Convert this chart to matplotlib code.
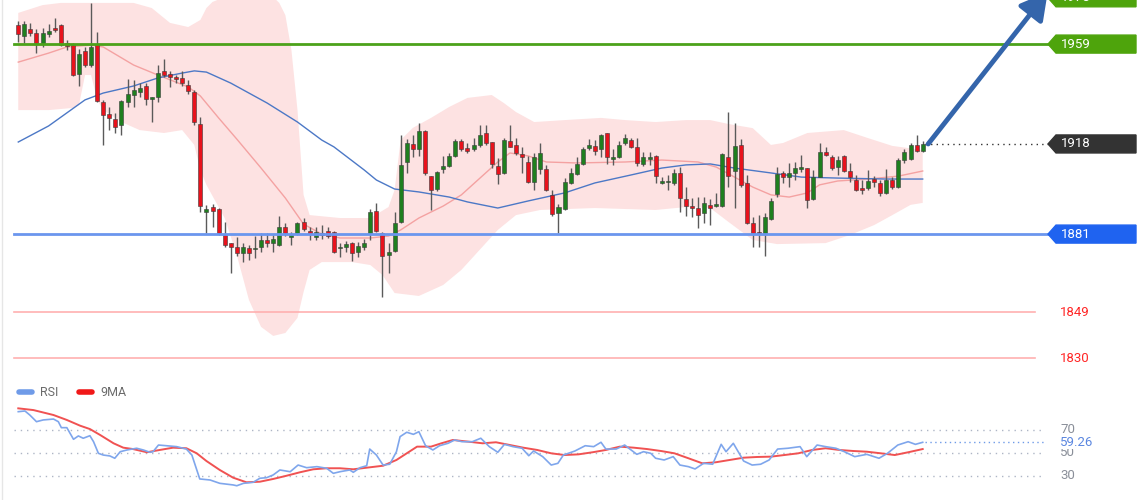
import matplotlib
matplotlib.use("Agg")
import matplotlib.pyplot as plt
from matplotlib.lines import Line2D
from matplotlib.patches import Polygon
import numpy as np

plt.rcParams['font.family'] = ['Roboto', 'DejaVu Sans']

# ---- candles, oldest first ----
opens = [1966.8, 1962.3, 1965.2, 1963.5, 1959.4, 1963.1, 1965.6, 1966.8, 1959.4, 1958.6,
         1946.7, 1956.2, 1950.4, 1959.0, 1935.2, 1930.3, 1928.2, 1925.8, 1935.2, 1938.1,
         1939.3, 1941.8, 1936.5, 1937.3, 1948.0, 1946.7, 1945.5, 1945.1, 1942.2, 1939.3,
         1926.2, 1890.1, 1892.1, 1891.3, 1880.6, 1877.3, 1875.7, 1873.2, 1875.3, 1874.9,
         1875.7, 1878.6, 1877.3, 1876.5, 1883.9, 1879.8, 1881.5, 1886.0, 1882.3, 1879.8,
         1881.5, 1882.3, 1881.9, 1875.3, 1875.7, 1877.3, 1873.6, 1875.7, 1881.5, 1890.5,
         1881.5, 1872.4, 1874.1, 1886.0, 1910.6, 1918.0, 1915.9, 1923.3, 1904.8, 1899.5,
         1907.7, 1909.0, 1913.1, 1919.2, 1916.3, 1915.9, 1917.6, 1922.5, 1918.8, 1909.0,
         1906.1, 1919.2, 1917.6, 1913.9, 1910.6, 1902.4, 1907.7, 1907.7, 1897.1, 1889.7,
         1891.3, 1902.0, 1905.7, 1909.8, 1916.3, 1917.2, 1915.9, 1922.5, 1911.8, 1912.7,
         1918.4, 1919.6, 1916.8, 1909.8, 1911.8, 1913.1, 1902.0, 1902.4, 1902.0, 1906.1,
         1895.4, 1892.5, 1891.7, 1889.7, 1893.0, 1892.5, 1892.5, 1912.7, 1906.9, 1917.6,
         1902.0, 1885.6, 1881.9, 1881.5, 1887.2, 1897.5, 1906.1, 1904.4, 1906.1, 1907.7,
         1908.1, 1895.4, 1904.4, 1914.7, 1912.7, 1908.5, 1913.1, 1906.9, 1903.2, 1899.9,
         1899.9, 1903.6, 1902.0, 1897.9, 1903.2, 1900.3, 1911.4, 1911.8, 1917.6, 1915.1]
highs = [1968.5, 1968.5, 1967.7, 1965.2, 1965.6, 1967.2, 1969.7, 1967.2, 1960.7, 1959.4,
         1957.0, 1957.8, 1975.9, 1964.0, 1936.1, 1933.2, 1930.7, 1936.1, 1944.7, 1944.3,
         1943.0, 1943.0, 1937.3, 1950.4, 1952.9, 1948.0, 1946.3, 1948.0, 1944.3, 1940.2,
         1929.1, 1893.0, 1893.4, 1891.7, 1886.0, 1877.3, 1879.8, 1877.3, 1876.5, 1880.2,
         1881.5, 1881.5, 1880.6, 1888.4, 1885.6, 1881.9, 1886.0, 1887.6, 1883.9, 1883.9,
         1884.7, 1883.9, 1882.3, 1877.3, 1878.2, 1877.8, 1877.8, 1879.0, 1891.3, 1893.8,
         1881.9, 1877.3, 1890.1, 1921.7, 1920.0, 1921.7, 1926.6, 1923.7, 1904.8, 1906.9,
         1913.1, 1914.3, 1920.0, 1920.0, 1918.4, 1920.4, 1925.8, 1925.8, 1918.8, 1912.2,
         1920.4, 1925.8, 1920.4, 1916.8, 1913.1, 1914.3, 1918.4, 1909.4, 1899.1, 1893.4,
         1904.0, 1908.1, 1912.7, 1916.8, 1920.0, 1919.6, 1922.1, 1922.5, 1915.9, 1919.2,
         1922.1, 1920.4, 1920.4, 1914.7, 1914.7, 1913.5, 1904.4, 1905.3, 1907.7, 1908.5,
         1900.3, 1895.8, 1896.2, 1896.2, 1895.4, 1897.9, 1914.3, 1931.1, 1926.6, 1920.0,
         1905.3, 1888.0, 1888.8, 1889.7, 1895.8, 1908.5, 1906.9, 1910.2, 1910.6, 1913.5,
         1908.1, 1907.3, 1918.4, 1916.8, 1913.5, 1913.1, 1913.5, 1910.2, 1905.3, 1903.2,
         1907.3, 1904.8, 1903.2, 1907.7, 1904.4, 1912.2, 1915.9, 1918.4, 1921.7, 1919.2]
lows = [1959.9, 1959.4, 1962.3, 1955.3, 1957.8, 1961.9, 1964.0, 1958.2, 1956.6, 1945.9,
        1941.8, 1949.6, 1949.6, 1935.2, 1917.6, 1923.7, 1922.5, 1921.7, 1933.2, 1933.2,
        1937.3, 1934.0, 1927.0, 1935.2, 1945.5, 1941.4, 1943.0, 1941.8, 1938.5, 1925.8,
        1890.1, 1881.5, 1883.9, 1880.6, 1875.7, 1865.0, 1872.0, 1869.5, 1870.4, 1871.2,
        1873.6, 1875.7, 1873.6, 1876.1, 1880.2, 1876.5, 1880.6, 1882.3, 1878.6, 1878.6,
        1879.0, 1879.4, 1873.2, 1871.6, 1873.6, 1870.0, 1871.6, 1874.5, 1878.6, 1881.9,
        1855.2, 1865.0, 1873.6, 1885.6, 1906.1, 1912.7, 1913.1, 1905.3, 1890.9, 1898.7,
        1906.1, 1908.5, 1912.7, 1915.1, 1914.3, 1915.1, 1916.8, 1917.6, 1908.1, 1901.6,
        1905.7, 1916.8, 1913.5, 1906.1, 1902.0, 1899.1, 1905.7, 1898.7, 1888.4, 1881.5,
        1890.9, 1901.6, 1905.3, 1909.4, 1915.5, 1913.5, 1912.7, 1909.8, 1909.4, 1912.2,
        1917.6, 1916.3, 1909.0, 1909.0, 1909.4, 1902.0, 1901.6, 1899.1, 1901.2, 1890.1,
        1888.4, 1888.0, 1883.5, 1885.6, 1884.7, 1892.1, 1892.1, 1900.3, 1891.7, 1900.3,
        1885.2, 1875.7, 1875.7, 1872.0, 1886.8, 1896.2, 1902.0, 1900.3, 1903.2, 1906.5,
        1891.7, 1895.0, 1904.4, 1913.1, 1907.3, 1905.3, 1906.5, 1902.4, 1898.7, 1897.5,
        1899.1, 1900.3, 1896.6, 1897.5, 1899.5, 1899.9, 1910.2, 1911.4, 1914.7, 1914.7]
closes = [1963.1, 1967.2, 1963.5, 1959.4, 1963.5, 1964.4, 1964.8, 1958.6, 1958.2, 1946.3,
          1954.9, 1950.4, 1957.8, 1935.6, 1929.9, 1928.7, 1925.0, 1935.6, 1938.5, 1940.2,
          1941.0, 1936.5, 1937.3, 1947.1, 1946.3, 1945.5, 1944.7, 1943.0, 1939.7, 1927.0,
          1892.5, 1891.3, 1890.5, 1881.5, 1876.5, 1875.7, 1873.2, 1875.7, 1873.2, 1875.3,
          1878.6, 1877.3, 1879.0, 1883.9, 1881.5, 1880.6, 1885.6, 1883.1, 1881.0, 1881.9,
          1880.6, 1880.2, 1873.6, 1875.7, 1876.9, 1873.2, 1876.1, 1877.3, 1890.1, 1882.3,
          1872.0, 1873.6, 1885.6, 1909.4, 1918.4, 1915.9, 1923.3, 1906.1, 1899.1, 1906.5,
          1909.0, 1913.1, 1919.2, 1915.9, 1915.1, 1917.6, 1921.7, 1918.4, 1909.8, 1905.7,
          1919.6, 1916.8, 1914.3, 1912.7, 1902.4, 1912.7, 1914.3, 1899.1, 1889.3, 1892.1,
          1902.4, 1906.1, 1909.8, 1915.9, 1917.6, 1915.1, 1921.7, 1912.7, 1912.7, 1917.6,
          1920.4, 1916.8, 1910.2, 1912.7, 1912.7, 1904.8, 1902.8, 1902.8, 1906.1, 1895.8,
          1892.5, 1891.7, 1888.8, 1893.8, 1891.7, 1893.4, 1913.9, 1904.8, 1917.2, 1901.2,
          1885.6, 1881.5, 1881.5, 1888.0, 1894.6, 1905.7, 1904.4, 1906.1, 1908.1, 1908.5,
          1895.0, 1904.4, 1914.7, 1913.5, 1908.1, 1911.4, 1906.9, 1904.4, 1899.1, 1899.1,
          1902.8, 1902.4, 1897.9, 1903.2, 1900.3, 1911.4, 1914.7, 1917.6, 1915.1, 1918.0]

# ---- Bollinger band (read at selected candle positions) ----
bb_up_idx = [0, 4, 7, 19, 22, 25, 28, 30, 31, 32, 34, 39, 42, 43, 44, 45, 46, 47, 48, 53,
             58, 61, 62, 63, 65, 68, 71, 74, 78, 80, 82, 85, 90, 96, 100, 105, 110, 114, 117, 121,
             124, 126, 130, 136, 140, 144, 149]
bb_up = [1971.8, 1975.0, 1975.9, 1975.9, 1973.8, 1967.7, 1966.0, 1968.9, 1973.8, 1976.3,
         1978.3, 1979.2, 1978.3, 1975.9, 1970.9, 1956.6, 1931.9, 1897.1, 1888.8, 1887.6,
         1887.6, 1892.1, 1899.1, 1919.6, 1924.6, 1928.7, 1933.2, 1936.9, 1938.1, 1934.8,
         1931.1, 1927.0, 1927.8, 1928.7, 1927.8, 1927.0, 1927.8, 1927.8, 1926.2, 1924.5,
         1917.6, 1918.4, 1922.5, 1923.7, 1920.4, 1917.2, 1915.5]
bb_lo_idx = [0, 5, 9, 10, 11, 12, 13, 14, 17, 20, 24, 27, 29, 30, 31, 34, 36, 38, 40, 42,
             44, 46, 47, 48, 50, 55, 58, 60, 62, 66, 70, 73, 76, 79, 82, 86, 95, 105, 110, 114,
             117, 121, 125, 133, 137, 141, 144, 147, 149]
bb_lo = [1931.9, 1931.9, 1932.8, 1934.0, 1946.3, 1946.3, 1936.1, 1931.9, 1927.0, 1923.7,
         1922.5, 1923.7, 1917.6, 1907.3, 1901.2, 1887.6, 1872.4, 1854.0, 1842.9, 1839.2,
         1840.4, 1846.6, 1857.2, 1866.3, 1869.5, 1869.5, 1868.3, 1864.2, 1856.8, 1855.6,
         1860.1, 1866.3, 1874.5, 1882.7, 1888.8, 1890.9, 1891.7, 1890.9, 1892.1, 1891.7,
         1886.0, 1878.6, 1876.9, 1877.3, 1880.6, 1884.7, 1888.8, 1893.0, 1893.8]
bb_mid_idx = [0, 5, 8, 12, 14, 19, 23, 28, 30, 33, 36, 40, 44, 47, 50, 53, 58, 61, 63, 66,
              70, 73, 77, 79, 81, 84, 87, 92, 100, 106, 112, 115, 118, 121, 124, 127, 130, 132,
              135, 140, 145, 149]
bb_mid = [1951.6, 1955.3, 1957.8, 1958.6, 1957.8, 1950.4, 1946.3, 1941.4, 1937.7, 1928.7,
          1920.0, 1908.1, 1895.8, 1885.1, 1881.0, 1879.4, 1879.4, 1880.2, 1882.7, 1887.6,
          1892.5, 1897.1, 1906.1, 1910.6, 1914.3, 1913.1, 1910.6, 1910.2, 1910.6, 1911.4,
          1910.6, 1908.5, 1904.4, 1900.3, 1897.1, 1896.2, 1897.9, 1901.2, 1902.8, 1903.6,
          1904.8, 1906.9]

# slow moving average (blue)
ma_idx = [0, 5, 11, 14, 19, 23, 27, 29, 31, 35, 41, 46, 50, 52, 57, 59, 62, 66, 71, 74,
          79, 84, 90, 95, 101, 106, 110, 114, 118, 124, 129, 135, 143, 149]
ma_vals = [1918.8, 1925.4, 1936.1, 1938.9, 1941.8, 1945.1, 1947.1, 1948.0, 1947.5, 1943.0,
           1934.8, 1927.0, 1919.6, 1916.8, 1907.3, 1903.2, 1899.5, 1898.3, 1896.2, 1894.2,
           1891.7, 1894.6, 1897.9, 1902.0, 1905.3, 1908.1, 1909.4, 1909.8, 1908.1, 1906.1,
           1904.4, 1904.0, 1903.6, 1903.6]

# key levels
resistance = [1978, 1959]
pivot = 1881
supports = [1849, 1830]
last_price = 1918

# ---- RSI panel ----
rsi_idx = [0.0, 1.1, 1.9, 3.0, 4.1, 5.8, 6.6, 7.1, 8.0, 9.1, 9.9, 10.7, 11.8, 12.4, 13.2, 14.0,
           15.1, 15.9, 16.8, 17.9, 19.5, 20.6, 21.7, 22.2, 23.1, 24.4, 26.1, 27.7, 28.6, 29.9,
           31.6, 33.2, 35.4, 36.0, 37.1, 38.7, 39.8, 40.9, 42.0, 43.1, 44.8, 46.1, 47.5, 49.2,
           50.8, 51.9, 53.0, 54.6, 55.2, 56.3, 57.4, 57.9, 59.0, 60.1, 61.2, 62.3,
           62.9, 64.0, 65.1, 66.0, 67.1, 68.3, 69.4, 70.8, 71.9, 73.1, 74.8, 76.2, 77.6, 79.0,
           80.1, 81.5, 83.0, 84.1, 84.9, 86.4, 87.8, 88.9, 89.8, 91.7, 93.4, 94.8, 96.0, 96.8,
           98.5, 99.9, 101.9, 103.0, 104.2, 105.0, 106.4, 107.9, 109.0, 110.4, 111.5, 112.9,
           114.4, 115.8, 116.6, 117.8, 119.5, 120.9, 122.3, 123.7, 125.1, 126.8, 128.8, 129.9,
           131.6, 133.0, 134.7, 136.1, 137.8, 139.8, 141.8, 143.2, 144.9, 146.6, 147.8, 149.0]
rsi_vals = [85.9, 86.5, 83.0, 77.2, 78.7, 79.5, 77.2, 72.0, 72.0, 61.9, 64.8, 62.8, 65.0, 59.8,
            49.7, 48.2, 47.4, 45.4, 51.1, 52.6, 54.1, 52.6, 50.6, 51.1, 56.9, 56.3, 55.5, 53.4,
            48.2, 27.4, 26.5, 23.6, 22.2, 21.5, 23.6, 24.5, 28.0, 28.5, 30.9, 35.2, 33.7, 39.5,
            37.2, 38.1, 36.7, 32.3, 33.7, 35.2, 33.2, 37.2, 38.9, 53.4, 48.2, 39.5, 40.2, 51.1,
            64.2, 68.0, 66.2, 68.5, 56.3, 52.6, 56.3, 58.4, 61.3, 59.8, 59.8, 62.8, 55.5, 50.6,
            57.5, 55.5, 54.1, 47.6, 51.7, 46.8, 39.5, 41.0, 48.2, 51.7, 56.3, 55.5, 59.3, 53.4,
            53.4, 56.9, 48.8, 51.1, 49.7, 45.4, 43.9, 46.8, 39.5, 38.1, 36.1, 41.0, 40.2, 57.5,
            51.1, 58.4, 43.0, 39.5, 40.2, 43.9, 53.4, 54.1, 55.5, 46.8, 56.9, 55.5, 54.1, 51.1,
            46.8, 48.8, 45.4, 49.7, 56.9, 59.8, 57.5, 59.26]
rsi_ma_idx = [0, 2.5, 5.8, 8.0, 10.2, 11.8, 13.5, 15.7, 17.3, 18.9, 21.2, 23.3, 25.5, 27.7,
              29.4, 31.0, 33.2, 35.4, 37.6, 39.8, 42.0, 44.2, 46.4, 48.6, 50.8, 53.0, 55.2,
              57.4, 60.1, 62.3, 65.7, 68.0, 69.7, 71.6, 74.2, 76.5, 78.7, 81.0, 83.2, 85.5,
              87.8, 90.0, 92.3, 94.6, 96.8, 99.1, 101.4, 103.6, 105.9, 108.1, 110.4, 112.7,
              114.9, 117.2, 119.5, 121.7, 124.0, 126.2, 128.5, 130.8, 133.0, 135.3, 137.6,
              139.8, 142.1, 144.4, 146.6, 149.0]
rsi_ma_vals = [88.8, 87.3, 83.0, 78.7, 73.7, 70.8, 65.6, 58.4, 54.6, 53.4, 50.6, 52.6, 54.6,
               54.1, 49.7, 43.0, 35.2, 28.5, 24.5, 25.0, 27.4, 30.2, 33.2, 35.8, 36.7, 36.7,
               35.8, 37.2, 38.9, 43.9, 55.5, 55.5, 58.4, 61.3, 59.8, 58.4, 59.3, 56.9, 54.6,
               52.6, 49.7, 48.2, 48.8, 50.6, 52.6, 55.5, 54.6, 53.4, 51.7, 49.7, 45.4, 41.0,
               41.9, 43.9, 45.9, 46.5, 46.8, 48.2, 49.7, 52.6, 54.1, 52.6, 51.7, 51.1, 49.7,
               48.2, 50.6, 53.4]
rsi_levels = [70, 50, 30]

W, H = 1140, 500
fig = plt.figure(figsize=(W / 100, H / 100), dpi=100)
fig.patch.set_facecolor('white')

XLIM = (-3.01, 184.8)
fx = lambda px: px / W

# faint frame line on the left edge
fig.add_artist(Line2D([fx(1.5), fx(1.5)], [0, 1], lw=1, color='#e6e6e6'))

# ---- price panel ----
ax = fig.add_axes([0, 0.24, 1, 0.76])
ax.set_xlim(*XLIM)
ax.set_ylim(1821.1, 1977.1)
ax.axis('off')

# band fill + lines
ax.fill(np.r_[bb_up_idx, bb_lo_idx[::-1]], np.r_[bb_up, bb_lo[::-1]],
        color='#fde2e2', lw=0, zorder=1)
ax.plot(bb_mid_idx, bb_mid, color='#f4a2a2', lw=1, zorder=2)
ax.plot(ma_idx, ma_vals, color='#4c78c6', lw=1, zorder=2)

# candlesticks
o, hi, lo, c = (np.array(a) for a in (opens, highs, lows, closes))
x = np.arange(len(o))
up = c >= o
ax.vlines(x, lo, hi, color='#5a5a5a', lw=1, zorder=3)
ax.bar(x, np.maximum(np.abs(c - o), 0.5), bottom=np.minimum(o, c), width=0.66,
       color=np.where(up, '#1f7f1f', '#e8121c'), edgecolor='#3a3a3a', linewidth=0.4, zorder=4)

# horizontal levels
ax.axhline(resistance[1], xmin=fx(14), xmax=fx(1048), color='#4ca21a', lw=2, zorder=5)
ax.axhline(pivot, xmin=fx(14), xmax=fx(1048), color='#6b96ee', lw=2, zorder=5)
for s in supports:
    ax.axhline(s, xmin=fx(14), xmax=fx(1035), color='#ffb0b0', lw=1.2, zorder=5)
    ax.text(fx(1060), s, str(s), transform=ax.get_yaxis_transform(), color='#ff2626',
            fontsize=9.5, va='center', ha='left')
ax.axhline(last_price, xmin=fx(925), xmax=fx(1048), color='#333333', lw=1,
           ls=(0, (1, 3)), zorder=5)

# price tags on the right
trans = ax.get_yaxis_transform()
half = 9 / 2.436


def tag(price, color):
    pts = [(fx(1048), price), (fx(1056), price + half), (fx(1136), price + half),
           (fx(1136), price - half), (fx(1056), price - half)]
    ax.add_patch(Polygon(pts, closed=True, transform=trans, facecolor=color,
                         edgecolor=color, clip_on=False, zorder=6))
    ax.text(fx(1061), price, str(price), transform=trans, color='white', fontsize=9.5,
            va='center', ha='left', zorder=7, clip_on=False)


for r in resistance:
    tag(r, '#4ea40c')
tag(last_price, '#333333')
tag(pivot, '#1f63f0')

# projection arrow (tip runs past the top edge)
ax.annotate('', xy=(169.6, 1980.4), xytext=(149.9, 1918), annotation_clip=False,
            arrowprops=dict(arrowstyle='-|>,head_width=0.5,head_length=0.9',
                            mutation_scale=18, color='#3465ab', lw=3.5,
                            shrinkA=0, shrinkB=0), zorder=6)

# ---- RSI panel ----
rx = fig.add_axes([0, 0, 1, 0.23])
rx.set_xlim(*XLIM)
rx.set_ylim(9.1, 109.1)
rx.axis('off')

for lvl in rsi_levels:
    rx.axhline(lvl, xmin=fx(14), xmax=fx(1045), color='#aeb6c6', lw=1, ls=(0, (1, 3.5)))
    rx.text(fx(1060), lvl, str(lvl), transform=rx.get_yaxis_transform(), color='#8a8f99',
            fontsize=9.5, va='center', ha='left')
rx.axhline(rsi_vals[-1], xmin=fx(925), xmax=fx(1045), color='#6f9be8', lw=1, ls=(0, (1, 2.5)))
rx.text(fx(1060), rsi_vals[-1], f"{rsi_vals[-1]:.2f}", transform=rx.get_yaxis_transform(),
        color='#5b87e0', fontsize=9.5, va='center', ha='left',
        bbox=dict(facecolor='white', edgecolor='none', pad=0.3))

rx.plot(rsi_idx, rsi_vals, color='#7fa6ec', lw=1.2, zorder=3)
rx.plot(rsi_ma_idx, rsi_ma_vals, color='#f05252', lw=1.4, zorder=2)

# legend
ly = 1 - 392 / H
fig.add_artist(Line2D([fx(19), fx(32)], [ly, ly], lw=4, color='#6f9be8', solid_capstyle='round'))
fig.text(fx(40), ly, 'RSI', color='#6b6b6b', fontsize=9, va='center')
fig.add_artist(Line2D([fx(79), fx(92)], [ly, ly], lw=4, color='#f01818', solid_capstyle='round'))
fig.text(fx(100), ly, '9MA', color='#6b6b6b', fontsize=9, va='center')

fig.savefig('out.png', dpi=100, facecolor='white')
